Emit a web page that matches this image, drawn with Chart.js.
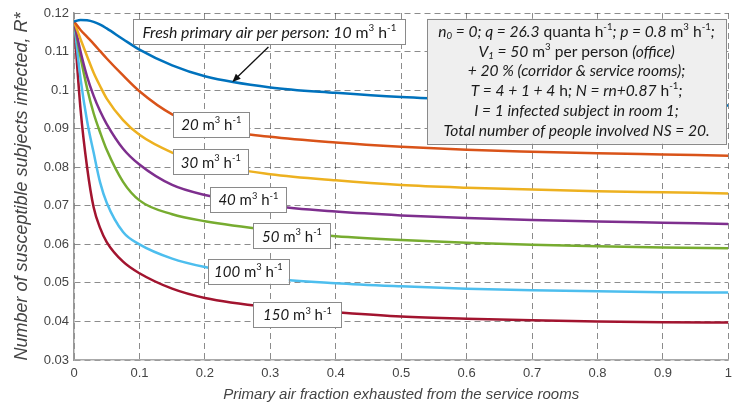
<!DOCTYPE html>
<html>
<head>
<meta charset="utf-8">
<script src="https://cdn.jsdelivr.net/npm/chart.js@4.4.1/dist/chart.umd.min.js"></script>
<style>
  html, body { margin: 0; background: #fff; }
  canvas { display: block; }
</style>
</head>
<body>
<canvas id="chart" width="738" height="409"></canvas>
<script>
// ── Data ──
const fraction = [0, 0.01, 0.02, 0.03, 0.04, 0.05, 0.075, 0.1, 0.15, 0.2, 0.3, 0.4, 0.5, 0.6, 0.7, 0.8, 0.9, 1.0];

const r10  = [0.1178, 0.1182, 0.1181, 0.1177, 0.1170, 0.1160, 0.1132, 0.1105, 0.1064, 0.1036, 0.1007, 0.0993, 0.0982, 0.0975, 0.0970, 0.0966, 0.0963, 0.0960];
const r20  = [0.1178, 0.1156, 0.1138, 0.1120, 0.1101, 0.1082, 0.1038, 0.0997, 0.0937, 0.0904, 0.0879, 0.0864, 0.0853, 0.0845, 0.0840, 0.0836, 0.0833, 0.0830];
const r30  = [0.1178, 0.1132, 0.1088, 0.1045, 0.1010, 0.0978, 0.0922, 0.0884, 0.0838, 0.0810, 0.0782, 0.0766, 0.0754, 0.0747, 0.0742, 0.0738, 0.0735, 0.0732];
const r40  = [0.1178, 0.1100, 0.1035, 0.0985, 0.0945, 0.0912, 0.0848, 0.0807, 0.0754, 0.0728, 0.0700, 0.0685, 0.0675, 0.0668, 0.0663, 0.0659, 0.0656, 0.0653];
const r50  = [0.1178, 0.1085, 0.1005, 0.0940, 0.0890, 0.0845, 0.0762, 0.0714, 0.0678, 0.0660, 0.0637, 0.0621, 0.0611, 0.0604, 0.0599, 0.0595, 0.0592, 0.0590];
const r100 = [0.1178, 0.1030, 0.0920, 0.0838, 0.0760, 0.0708, 0.0632, 0.0600, 0.0563, 0.0541, 0.0512, 0.0499, 0.0491, 0.0485, 0.0481, 0.0478, 0.0476, 0.0475];
const r150 = [0.1178, 0.0950, 0.0800, 0.0696, 0.0642, 0.0606, 0.0555, 0.0525, 0.0485, 0.0461, 0.0437, 0.0424, 0.0413, 0.0407, 0.0403, 0.0400, 0.0398, 0.0397];

const flows  = ['10', '20', '30', '40', '50', '100', '150'];
const series = [r10, r20, r30, r40, r50, r100, r150];

// MATLAB default line colours
const COLORS = ['#0072BD', '#D95319', '#EDB120', '#7E2F8E', '#77AC30', '#4DBEEE', '#A2142F'];

const FONT = "Lato, 'Open Sans', sans-serif";
const AXIS_FONT = "'Liberation Sans', Arial, sans-serif";

// ── Annotations (positions in data units) ──
const unit = [[' m', ''], ['3', '^'], [' h', ''], ['-1', '^']];
const flowLabels = [
  { x: 0.2986, y: 0.1151, w: 272, size: 15.8, segs: [['Fresh primary air per person: 10', 'i']].concat(unit) },
  { x: 0.2098, y: 0.0911, w: 76,  size: 15, segs: [['20', 'i']].concat(unit) },
  { x: 0.2090, y: 0.0814, w: 75,  size: 15, segs: [['30', 'i']].concat(unit) },
  { x: 0.2665, y: 0.0716, w: 76,  size: 15, segs: [['40', 'i']].concat(unit) },
  { x: 0.3331, y: 0.0622, w: 77,  size: 15, segs: [['50', 'i']].concat(unit) },
  { x: 0.2665, y: 0.0530, w: 80,  size: 15, segs: [['100', 'i']].concat(unit) },
  { x: 0.3415, y: 0.0418, w: 88,  size: 15, segs: [['150', 'i']].concat(unit) }
];
const arrow = { x0: 0.2971, y0: 0.1112, x1: 0.2420, y1: 0.1021 };

const paramBox = { x: 0.768, y: 0.1023, w: 299, h: 125 };
const paramLines = [
  [['n', 'i'], ['0', 'i_'], [' = 0; q = 26.3', 'i'], [' quanta h', ''], ['-1', '^'], ['; p = 0.8', 'i'], [' m', ''], ['3', '^'], [' h', ''], ['-1', '^'], [';', 'i']],
  [['V', 'i'], ['1', 'i_'], [' = 50', 'i'], [' m', ''], ['3', '^'], [' per person ', ''], ['(office)', 'i']],
  [['+ 20 % (corridor & service rooms);', 'i']],
  [['T = 4 + 1 + 4', 'i'], [' h', ''], ['; N = rn+0.87', 'i'], [' h', ''], ['-1', '^'], [';', 'i']],
  [['I = 1 infected subject in room 1;', 'i']],
  [['Total number of people involved NS = 20.', 'i']]
];

function segFont(flags, size) {
  const small = flags.includes('^') || flags.includes('_');
  return (flags.includes('i') ? 'italic ' : '') + (small ? size * 0.62 : size) + 'px ' + FONT;
}

function measureRich(ctx, segs, size) {
  let w = 0;
  segs.forEach(([t, f]) => { ctx.font = segFont(f, size); w += ctx.measureText(t).width; });
  return w;
}

function drawRich(ctx, segs, cx, cy, size) {
  let xx = cx - measureRich(ctx, segs, size) / 2;
  ctx.textAlign = 'left';
  ctx.textBaseline = 'middle';
  segs.forEach(([t, f]) => {
    ctx.font = segFont(f, size);
    const dy = f.includes('^') ? -size * 0.33 : f.includes('_') ? size * 0.25 : 0;
    ctx.fillText(t, xx, cy + dy);
    xx += ctx.measureText(t).width;
  });
}

const annotPlugin = {
  id: 'annot',
  afterDatasetsDraw(chart) {
    const { ctx, scales: { x, y } } = chart;
    ctx.save();

    // arrow to the 10 m3/h curve
    const ax0 = x.getPixelForValue(arrow.x0), ay0 = y.getPixelForValue(arrow.y0);
    const ax1 = x.getPixelForValue(arrow.x1), ay1 = y.getPixelForValue(arrow.y1);
    const ang = Math.atan2(ay1 - ay0, ax1 - ax0);
    ctx.strokeStyle = '#111';
    ctx.fillStyle = '#111';
    ctx.lineWidth = 1.3;
    ctx.beginPath();
    ctx.moveTo(ax0, ay0);
    ctx.lineTo(ax1 - 6 * Math.cos(ang), ay1 - 6 * Math.sin(ang));
    ctx.stroke();
    ctx.beginPath();
    ctx.moveTo(ax1, ay1);
    ctx.lineTo(ax1 - 9 * Math.cos(ang - 0.4), ay1 - 9 * Math.sin(ang - 0.4));
    ctx.lineTo(ax1 - 9 * Math.cos(ang + 0.4), ay1 - 9 * Math.sin(ang + 0.4));
    ctx.closePath();
    ctx.fill();

    // flow-rate labels
    flowLabels.forEach(l => {
      const cx = x.getPixelForValue(l.x), cy = y.getPixelForValue(l.y);
      const w = Math.max(l.w, measureRich(ctx, l.segs, l.size) + 12), h = 25;
      ctx.fillStyle = '#fff';
      ctx.strokeStyle = '#8a8a8a';
      ctx.lineWidth = 1;
      ctx.fillRect(cx - w / 2, cy - h / 2, w, h);
      ctx.strokeRect(Math.round(cx - w / 2) + 0.5, Math.round(cy - h / 2) + 0.5, Math.round(w), h);
      ctx.fillStyle = '#1a1a1a';
      drawRich(ctx, l.segs, cx, cy + 1, l.size);
    });

    // parameter box
    const bx = x.getPixelForValue(paramBox.x), by = y.getPixelForValue(paramBox.y);
    ctx.fillStyle = '#efefef';
    ctx.strokeStyle = '#8a8a8a';
    ctx.fillRect(bx - paramBox.w / 2, by - paramBox.h / 2, paramBox.w, paramBox.h);
    ctx.strokeRect(Math.round(bx - paramBox.w / 2) + 0.5, Math.round(by - paramBox.h / 2) + 0.5, paramBox.w, paramBox.h);
    ctx.fillStyle = '#1a1a1a';
    const step = 19.7;
    paramLines.forEach((segs, i) => {
      drawRich(ctx, segs, bx, by - 2.5 * step + i * step, 15.6);
    });

    ctx.restore();
  }
};

const bgPlugin = {
  id: 'bg',
  beforeDraw(chart) {
    const { ctx } = chart;
    ctx.save();
    ctx.fillStyle = '#fff';
    ctx.fillRect(0, 0, chart.width, chart.height);
    ctx.restore();
  }
};

const GRID = {
  color: 'rgba(0,0,0,0.45)',
  lineWidth: 1,
  drawTicks: false
};

// 0.10 -> "0.1", 1.0 -> "1" (MATLAB style)
const fmt = v => String(Number(v.toFixed(2)));

new Chart(document.getElementById('chart'), {
  type: 'line',
  data: {
    datasets: series.map((s, i) => ({
      label: flows[i] + ' m3/h',
      data: fraction.map((fx, j) => ({ x: fx, y: s[j] })),
      borderColor: COLORS[i],
      borderWidth: 2.5,
      pointRadius: 0,
      fill: false,
      cubicInterpolationMode: 'monotone'
    }))
  },
  options: {
    responsive: false,
    devicePixelRatio: 1,
    animation: false,
    layout: { padding: { left: 0, right: 7, top: 13, bottom: 0 } },
    plugins: {
      legend: { display: false },
      tooltip: { enabled: false }
    },
    scales: {
      x: {
        type: 'linear',
        min: 0,
        max: 1,
        ticks: { stepSize: 0.1, color: '#444', font: { family: AXIS_FONT, size: 13 }, padding: 6, callback: fmt },
        grid: GRID,
        border: { display: true, color: '#aaa', width: 1.5, dash: [6, 4] },
        title: {
          display: true,
          text: 'Primary air fraction exhausted from the service rooms',
          color: '#444',
          font: { family: AXIS_FONT, size: 15, style: 'italic' },
          padding: { top: 0, bottom: 5 }
        },
        afterFit(scale) { scale.height = 49; }
      },
      y: {
        min: 0.03,
        max: 0.12,
        ticks: { stepSize: 0.01, color: '#444', font: { family: AXIS_FONT, size: 13 }, padding: 5, callback: fmt },
        grid: GRID,
        border: { display: true, color: '#999', width: 1.5, dash: [6, 4] },
        title: {
          display: true,
          text: 'Number of susceptible subjects infected, R*',
          color: '#444',
          font: { family: AXIS_FONT, size: 18, style: 'italic' },
          padding: { top: 11, bottom: 0 }
        },
        afterFit(scale) { scale.width = 74; }
      }
    }
  },
  plugins: [bgPlugin, annotPlugin]
});
</script>
</body>
</html>
